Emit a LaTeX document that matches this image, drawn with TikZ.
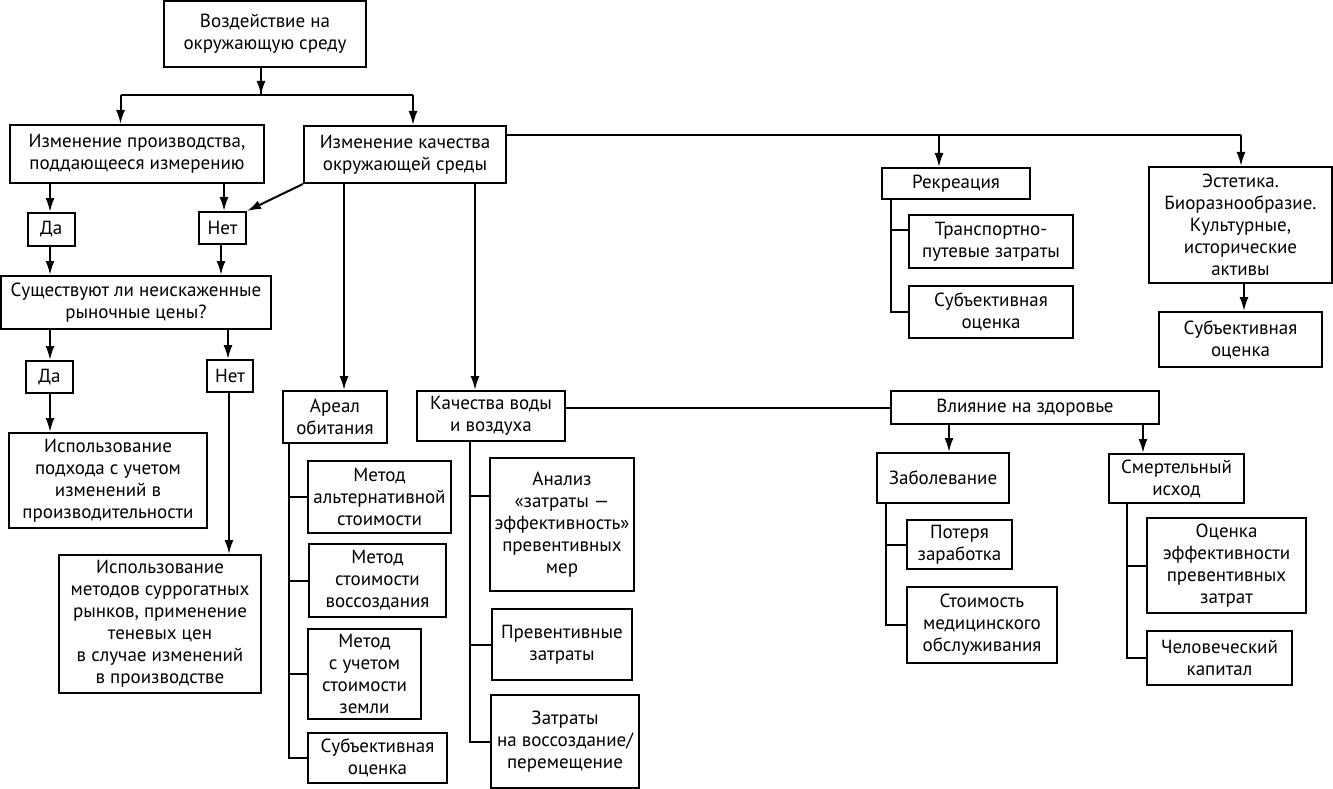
\documentclass[tikz,border=0pt]{standalone}
\usepackage{fontspec}
\setmainfont{PT Sans}
\usetikzlibrary{arrows.meta}
\tikzset{
 box/.style={draw, line width=2pt, inner sep=0pt, align=center, font=\fontsize{19}{22}\selectfont},
 conn/.style={line width=2pt},
 arr/.style={conn, -{Latex[length=14pt,width=9pt]}},
}
\newcommand\bx[6]{\node[box, minimum width={(#4-#2)*1pt}, minimum height={(#5-#3)*1pt}] (#1) at ({(#2+#4)/2},{(#3+#5)/2}) {#6};}
\begin{document}
\begin{tikzpicture}[x=1pt,y=-1pt]
\useasboundingbox (0,0) rectangle (1333,789);
\bx{top}{164}{1}{366}{67}{Воздействие на\\окружающую среду}
\bx{prod}{10}{125}{264}{183}{Изменение производства,\\поддающееся измерению}
\bx{kach}{304}{126}{506}{183}{Изменение качества\\окружающей среды}
\bx{da1}{27.5}{213}{75}{246}{Да}
\bx{net1}{199}{212}{246}{244}{Нет}
\bx{sush}{1}{276}{271}{329}{Существуют ли неискаженные\\рыночные цены?}
\bx{da2}{26}{361}{73}{393}{Да}
\bx{net2}{207}{360}{253}{392}{Нет}
\bx{podh}{9}{433}{207}{528}{Использование\\подхода с учетом\\изменений в\\производительности}
\bx{metsur}{59}{555}{261}{693}{Использование\\методов суррогатных\\рынков, применение\\теневых цен\\в случае изменений\\в производстве}
\bx{areal}{283}{391}{387}{443}{Ареал\\обитания}
\bx{voda}{417}{391}{565}{441}{Качества воды\\и воздуха}
\bx{alt}{308}{461}{451}{533}{Метод\\альтернативной\\стоимости}
\bx{vos}{309}{544}{446}{617}{Метод\\стоимости\\воссоздания}
\bx{zem}{308}{629}{421}{719}{Метод\\с учетом\\стоимости\\земли}
\bx{sub1}{308}{733}{447}{783}{Субъективная\\оценка}
\bx{anal}{490}{458}{634}{591}{Анализ\\«затраты —\\эффективность»\\превентивных\\мер}
\bx{prev}{492}{609}{632}{680}{Превентивные\\затраты}
\bx{zatr}{491}{695}{639}{788}{Затраты\\на воссоздание/\\перемещение}
\bx{rekr}{882}{168}{1030}{199}{Рекреация}
\bx{trans}{909}{215}{1073}{268}{Транспортно-\\путевые затраты}
\bx{sub2}{909}{286}{1073}{338}{Субъективная\\оценка}
\bx{est}{1149}{167}{1332}{283}{Эстетика.\\Биоразнообразие.\\Культурные,\\исторические\\активы}
\bx{sub3}{1159}{312}{1322}{367}{Субъективная\\оценка}
\bx{vliy}{891}{391}{1159}{424}{Влияние на здоровье}
\bx{zab}{877}{453}{1009}{503}{Заболевание}
\bx{pot}{907}{520}{1012}{569}{Потеря\\заработка}
\bx{med}{907}{587}{1057}{663}{Стоимость\\медицинского\\обслуживания}
\bx{smert}{1109}{454}{1244}{503}{Смертельный\\исход}
\bx{ocen}{1147}{518}{1306}{613}{Оценка\\эффективности\\превентивных\\затрат}
\bx{chel}{1147}{631}{1292}{685}{Человеческий\\капитал}
% top branching
\coordinate (j0) at (261,95);
\coordinate (jl) at (120.5,95);
\coordinate (jr) at (413,95);
\draw[conn] (j0 |- top.south) -- (j0);
\draw[conn] (jl) -- (jr);
\draw[arr] (jl) -- (jl |- prod.north);
\draw[arr] (jr) -- (jr |- kach.north);
\draw[arr] (j0 |- top.south) -- (j0);
% left column
\coordinate (pa) at (50,0);
\coordinate (pb) at (224,0);
\coordinate (pc) at (221,0);
\coordinate (sa) at (228,0);
\coordinate (sb) at (229,0);
\draw[arr] (pa |- prod.south) -- (pa |- da1.north);
\draw[arr] (pb |- prod.south) -- (pb |- net1.north);
\draw[arr] (kach.south west) -- (net1.north east);
\draw[arr] (pa |- da1.south) -- (pa |- sush.north);
\draw[arr] (pc |- net1.south) -- (pc |- sush.north);
\draw[arr] (pa |- sush.south) -- (pa |- da2.north);
\draw[arr] (sa |- sush.south) -- (sa |- net2.north);
\draw[arr] (pa |- da2.south) -- (pa |- podh.north);
\draw[arr] (sb |- net2.south) -- (sb |- metsur.north);
% quality branches
\coordinate (ka) at (344,0);
\coordinate (kb) at (475,0);
\draw[arr] (ka |- kach.south) -- (ka |- areal.north);
\draw[arr] (kb |- kach.south) -- (kb |- voda.north);
\coordinate (kl) at (0,135);
\coordinate (kR) at (939,135);
\coordinate (kE) at (1241,135);
\draw[conn] (kach.east |- kl) -- (kE);
\draw[arr] (kE) -- (kE |- est.north);
\draw[arr] (kR) -- (kR |- rekr.north);
% areal tree
\coordinate (ta) at (289,0);
\draw[conn] (ta |- areal.south) -- (ta |- sub1.west) -- (sub1.west);
\foreach \n in {alt,vos,zem} \draw[conn] (ta |- \n.west) -- (\n.west);
% voda tree
\coordinate (tb) at (470,0);
\draw[conn] (tb |- voda.south) -- (tb |- zatr.west) -- (zatr.west);
\coordinate (ban) at (470,496);
\draw[conn] (ban) -- (ban -| anal.west);
\draw[conn] (tb |- prev.west) -- (prev.west);
\draw[conn] (voda.east |- vliy.west) -- (vliy.west);
% recreation tree
\coordinate (tr) at (891,0);
\draw[conn] (tr |- rekr.south) -- (tr |- sub2.west) -- (sub2.west);
\coordinate (btr) at (891,230);
\draw[conn] (btr) -- (btr -| trans.west);
% aesthetics
\coordinate (te) at (1244,0);
\draw[arr] (te |- est.south) -- (te |- sub3.north);
% health
\coordinate (va) at (949,0);
\coordinate (vb) at (1143,0);
\draw[arr] (va |- vliy.south) -- (va |- zab.north);
\draw[arr] (vb |- vliy.south) -- (vb |- smert.north);
\coordinate (tz) at (886,0);
\draw[conn] (tz |- zab.south) -- (tz |- med.west) -- (med.west);
\draw[conn] (tz |- pot.west) -- (pot.west);
\coordinate (ts) at (1127,0);
\draw[conn] (ts |- smert.south) -- (ts |- chel.west) -- (chel.west);
\draw[conn] (ts |- ocen.west) -- (ocen.west);
\end{tikzpicture}
\end{document}
